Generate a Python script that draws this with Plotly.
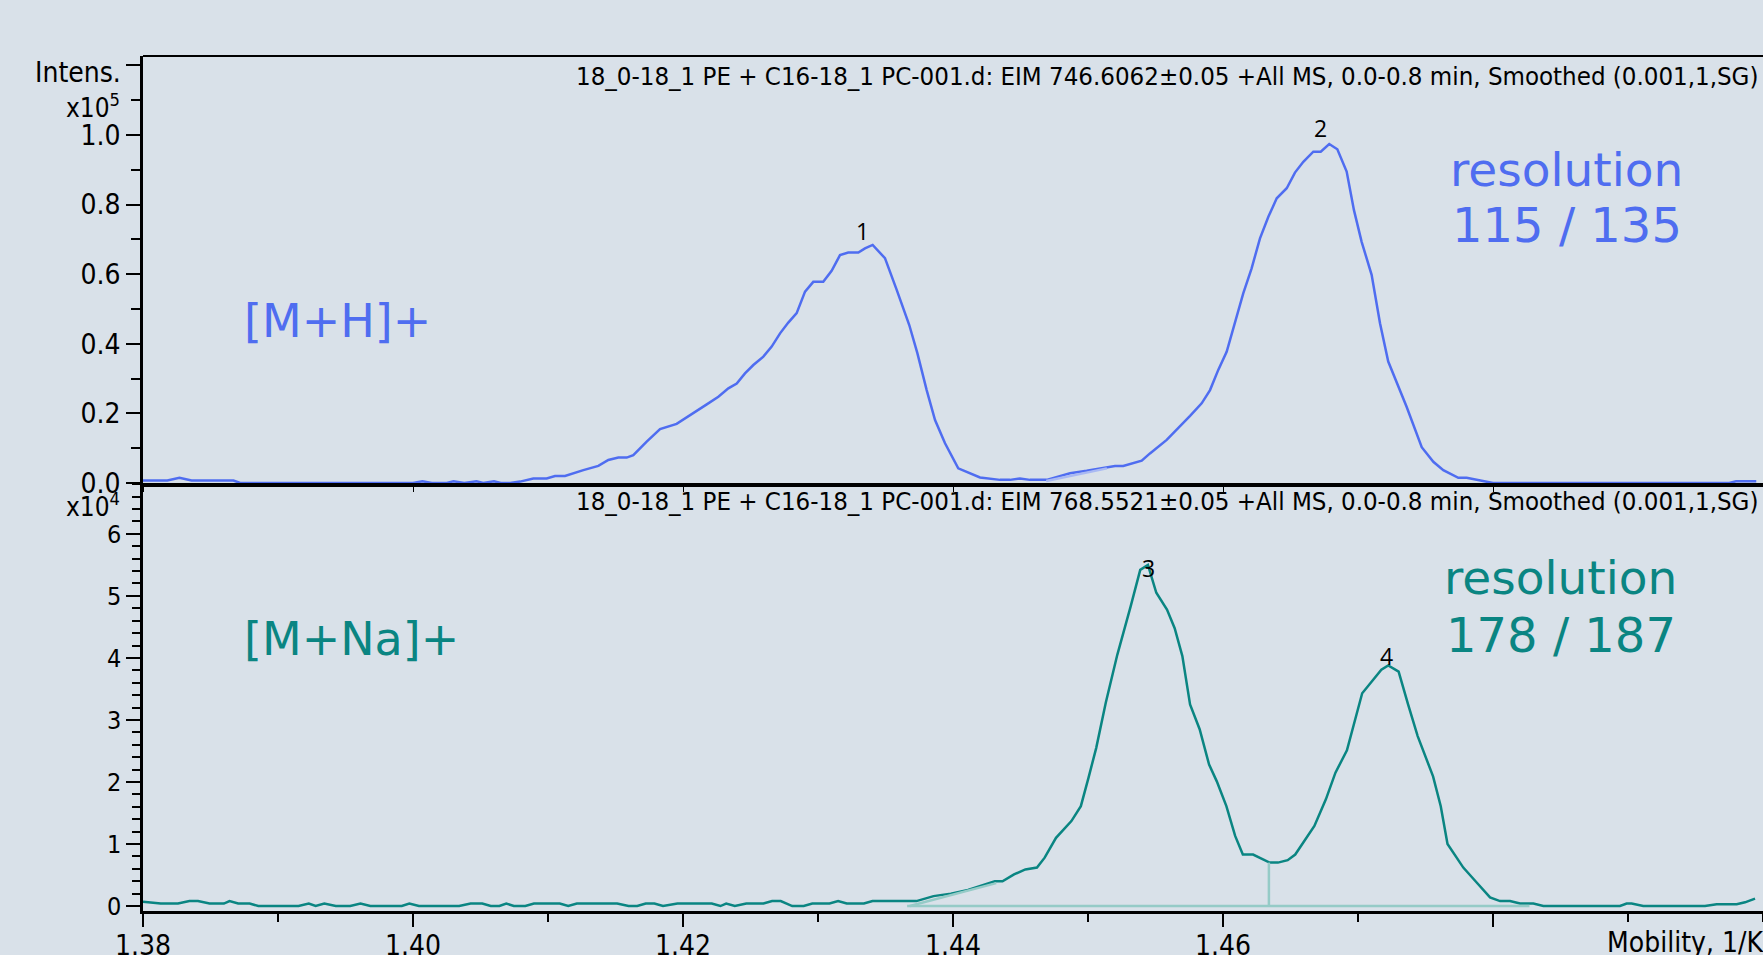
import plotly.graph_objects as go

# ---------------- data (intensity units: upper x1e5, lower x1e4) ----------------
mh_mobility = [1.3800, 1.3818, 1.3827, 1.3836, 1.3867, 1.3872, 1.4000, 1.4007, 1.4014, 1.4025,
               1.4030, 1.4038, 1.4047, 1.4052, 1.4060, 1.4065, 1.4072, 1.40793, 1.40891, 1.40990,
               1.41052, 1.41126, 1.41262, 1.41373, 1.41447, 1.41521, 1.41583, 1.41632, 1.41731, 1.41830,
               1.41953, 1.42077, 1.42176, 1.42262, 1.42336, 1.42398, 1.42459, 1.42521, 1.42595, 1.42657,
               1.42719, 1.42780, 1.42842, 1.42904, 1.42965, 1.43039, 1.43101, 1.43163, 1.43224, 1.43299,
               1.43348, 1.43405, 1.43496, 1.43583, 1.43676, 1.43736, 1.43805, 1.43867, 1.43941, 1.44039,
               1.44200, 1.44348, 1.44422, 1.44496, 1.44570, 1.44694, 1.44867, 1.44990, 1.45113, 1.45200,
               1.45261, 1.45398, 1.45459, 1.45583, 1.45756, 1.45842, 1.45904, 1.45965, 1.46027, 1.46089,
               1.46150, 1.46212, 1.46274, 1.46336, 1.46398, 1.46472, 1.46533, 1.46595, 1.46669, 1.46724,
               1.46787, 1.46847, 1.46916, 1.46970, 1.47027, 1.47101, 1.47163, 1.47224, 1.47286, 1.47360,
               1.47472, 1.47558, 1.47632, 1.47743, 1.47805, 1.47904, 1.4800, 1.4975, 1.4980, 1.4995]
mh_intensity = [0.007, 0.007, 0.015, 0.007, 0.007, 0.0, 0.0, 0.005, 0.0, 0.0,
                0.005, 0.0, 0.005, 0.0, 0.005, 0.0, 0.0, 0.004, 0.013, 0.013,
                0.020, 0.020, 0.037, 0.049, 0.066, 0.073, 0.073, 0.080, 0.119, 0.155,
                0.170, 0.200, 0.226, 0.248, 0.272, 0.286, 0.315, 0.339, 0.363, 0.392,
                0.430, 0.461, 0.488, 0.550, 0.578, 0.578, 0.610, 0.655, 0.662, 0.662,
                0.674, 0.684, 0.646, 0.555, 0.454, 0.373, 0.267, 0.181, 0.114, 0.042,
                0.016, 0.009, 0.009, 0.013, 0.009, 0.009, 0.028, 0.035, 0.042, 0.049,
                0.049, 0.064, 0.085, 0.124, 0.193, 0.229, 0.267, 0.325, 0.377, 0.459,
                0.545, 0.617, 0.703, 0.765, 0.818, 0.847, 0.892, 0.923, 0.952, 0.952,
                0.974, 0.959, 0.895, 0.784, 0.693, 0.598, 0.459, 0.349, 0.291, 0.219,
                0.103, 0.061, 0.037, 0.015, 0.015, 0.007, 0.0, 0.0, 0.005, 0.005]

mna_mobility = [1.3800, 1.38131, 1.38259, 1.38344, 1.38407, 1.38493, 1.38599, 1.38641, 1.38705, 1.38790,
                1.38854, 1.39152, 1.39228, 1.39279, 1.39343, 1.39428, 1.39535, 1.39611, 1.39684, 1.39917,
                1.39973, 1.40044, 1.40342, 1.40427, 1.40513, 1.40576, 1.40640, 1.40691, 1.40747, 1.40832,
                1.40896, 1.41087, 1.41150, 1.41214, 1.41512, 1.41597, 1.41661, 1.41724, 1.41788, 1.41852,
                1.41959, 1.42213, 1.42277, 1.42320, 1.42384, 1.42469, 1.42596, 1.42660, 1.42724, 1.42809,
                1.42894, 1.42958, 1.43085, 1.43149, 1.43213, 1.43340, 1.43404,
                1.43459, 1.43729, 1.43856, 1.43984, 1.44111, 1.44196, 1.44310, 1.44367, 1.44452, 1.44536,
                1.44622, 1.44679, 1.44763, 1.44877, 1.44947, 1.45004, 1.45061, 1.45132, 1.45217, 1.45316,
                1.45387, 1.45444, 1.45506, 1.45585, 1.45642, 1.45699, 1.45756, 1.45827, 1.45897, 1.45954,
                1.46025, 1.46090, 1.46147, 1.46223, 1.46294, 1.46345, 1.46407, 1.46479, 1.46535, 1.46606,
                1.46677, 1.46762, 1.46833, 1.46918, 1.46975, 1.47031, 1.47102, 1.47173, 1.47224, 1.47301,
                1.47371, 1.47442, 1.47556, 1.47613, 1.47663, 1.47706, 1.47780, 1.47879, 1.47978, 1.48052,
                1.48126, 1.48200, 1.48299, 1.48373, 1.48941, 1.48990, 1.49027, 1.49113, 1.49570, 1.49657,
                1.49805, 1.49867, 1.49941]
mna_intensity = [0.07, 0.04, 0.04, 0.08, 0.08, 0.04, 0.04, 0.08, 0.04, 0.04,
                 0.0, 0.0, 0.04, 0.0, 0.04, 0.0, 0.0, 0.04, 0.0, 0.0,
                 0.04, 0.0, 0.0, 0.04, 0.04, 0.0, 0.0, 0.04, 0.0, 0.0,
                 0.04, 0.04, 0.0, 0.04, 0.04, 0.0, 0.0, 0.04, 0.04, 0.0,
                 0.04, 0.04, 0.0, 0.04, 0.0, 0.04, 0.04, 0.08, 0.08, 0.0,
                 0.0, 0.04, 0.04, 0.08, 0.04, 0.04, 0.08,
                 0.08, 0.08, 0.16, 0.20, 0.26, 0.32, 0.40, 0.40, 0.51, 0.59,
                 0.62, 0.78, 1.10, 1.37, 1.61, 2.07, 2.55, 3.28, 4.05, 4.83,
                 5.42, 5.50, 5.05, 4.78, 4.48, 4.03, 3.25, 2.85, 2.28, 2.01,
                 1.61, 1.13, 0.83, 0.83, 0.76, 0.70, 0.70, 0.74, 0.83, 1.05,
                 1.29, 1.72, 2.15, 2.51, 2.98, 3.43, 3.62, 3.81, 3.88, 3.78,
                 3.25, 2.74, 2.09, 1.61, 1.00, 0.86, 0.62, 0.38, 0.14, 0.08,
                 0.08, 0.04, 0.04, 0.0, 0.0, 0.04, 0.04, 0.0, 0.0, 0.03,
                 0.03, 0.06, 0.12]

# integration baselines (data units)
mh_base_x = [1.4469, 1.4514]
mh_base_y = [0.006, 0.042]
mna_base_x = [1.4366, 1.4827]
mna_base_y = [0.0, 0.0]
mna_slant_x = [1.4368, 1.4432]
mna_slant_y = [0.0, 0.37]
mna_drop_x = [1.4634, 1.4634]
mna_drop_y = [0.0, 0.70]

# peak labels
peak_names = ["1", "2", "3", "4"]
peak_x = [1.4333, 1.4672, 1.4545, 1.4721]
peak_y = [0.724, 1.019, 5.45, 4.03]

x_tickvals = [1.38, 1.40, 1.42, 1.44, 1.46, 1.48]
x_ticktext = ["1.38", "1.40", "1.42", "1.44", "1.46", " "]
mh_tickvals = [0.0, 0.2, 0.4, 0.6, 0.8, 1.0, 1.2]
mh_ticktext = ["0.0", "0.2", "0.4", "0.6", "0.8", "1.0", " "]
mna_tickvals = [0, 1, 2, 3, 4, 5, 6]

header_mh = "18_0-18_1 PE + C16-18_1 PC-001.d: EIM 746.6062±0.05 +All MS, 0.0-0.8 min, Smoothed (0.001,1,SG)"
header_mna = "18_0-18_1 PE + C16-18_1 PC-001.d: EIM 768.5521±0.05 +All MS, 0.0-0.8 min, Smoothed (0.001,1,SG)"

# ---------------- style ----------------
BG = "#d9e1e9"
BLUE = "#4f6df0"
LIGHT_BLUE = "#a9b9f3"
TEAL = "#0a8582"
LIGHT_TEAL = "#95cbc7"
COND = "DejaVu Sans Condensed, Liberation Sans Narrow, DejaVu Sans, sans-serif"
NARROW = "Liberation Sans Narrow, DejaVu Sans Condensed, Open Sans, sans-serif"
SANS = "DejaVu Sans, Verdana, sans-serif"

W, H = 1763, 955
L, R, T, B = 143, 0, 56, 44
split = (911 - 483) / 855.0

fig = go.Figure()

fig.add_trace(go.Scatter(x=mh_mobility, y=mh_intensity, mode="lines",
                         line=dict(color=BLUE, width=2.5), xaxis="x2", yaxis="y2",
                         hoverinfo="skip", showlegend=False))
fig.add_trace(go.Scatter(x=mh_base_x, y=mh_base_y, mode="lines",
                         line=dict(color=LIGHT_BLUE, width=2.5), xaxis="x2", yaxis="y2",
                         hoverinfo="skip", showlegend=False))

fig.add_trace(go.Scatter(x=mna_mobility, y=mna_intensity, mode="lines",
                         line=dict(color=TEAL, width=2.5), xaxis="x", yaxis="y",
                         hoverinfo="skip", showlegend=False))
for bx, by in [(mna_base_x, mna_base_y), (mna_slant_x, mna_slant_y), (mna_drop_x, mna_drop_y)]:
    fig.add_trace(go.Scatter(x=bx, y=by, mode="lines",
                             line=dict(color=LIGHT_TEAL, width=2.5), xaxis="x", yaxis="y",
                             hoverinfo="skip", showlegend=False))

annotations = []
for i, name in enumerate(peak_names):
    upper = i < 2
    annotations.append(dict(x=peak_x[i], y=peak_y[i], xref="x2" if upper else "x",
                            yref="y2" if upper else "y", text=name, showarrow=False,
                            xanchor="center", yanchor="middle",
                            font=dict(family="Open Sans, sans-serif", size=23, color="black")))

def pap(ox, oy):
    return (ox - L) / (W - L - R), (H - B - oy) / (H - T - B)

def add_text(text, ox, oy, size, color, family, xanchor="left"):
    px, py = pap(ox, oy)
    annotations.append(dict(x=px, y=py, xref="paper", yref="paper", text=text,
                            showarrow=False, xanchor=xanchor, yanchor="middle",
                            font=dict(family=family, size=size, color=color)))

add_text("Intens.", 123, 73, 28, "black", COND, xanchor="right")
add_text("x10<sup>5</sup>", 122, 106, 26, "black", COND, xanchor="right")
add_text("x10<sup>4</sup>", 122, 505, 26, "black", COND, xanchor="right")
add_text(header_mh, 1760, 76, 25.6, "black", NARROW, xanchor="right")
add_text(header_mna, 1760, 501, 25.6, "black", NARROW, xanchor="right")
add_text("[M+H]+", 242, 321, 46, BLUE, SANS)
add_text("[M+Na]+", 242, 639, 46, TEAL, SANS)
add_text("resolution", 1448, 169, 47, BLUE, SANS)
add_text("115 / 135", 1450, 225, 48, BLUE, SANS)
add_text("resolution", 1442, 577, 47, TEAL, SANS)
add_text("178 / 187", 1444, 635, 48, TEAL, SANS)
add_text("Mobility, 1/K0", 1605, 942, 28, "black", COND)

axis_common = dict(showgrid=False, zeroline=False, ticks="outside", tickcolor="black",
                   linecolor="black", color="black", automargin=False)

fig.update_layout(
    width=W, height=H,
    margin=dict(l=L, r=R, t=T, b=B, pad=0, autoexpand=False),
    paper_bgcolor=BG, plot_bgcolor=BG,
    showlegend=False,
    annotations=annotations,
    xaxis=dict(**axis_common, domain=[0, 1], range=[1.38, 1.50], anchor="y",
               tickvals=x_tickvals, ticktext=x_ticktext, ticklen=13, tickwidth=2,
               showline=True, linewidth=2.5, ticklabelstandoff=-5,
               minor=dict(dtick=0.01, tick0=1.38, ticks="outside", ticklen=8, tickwidth=2,
                          tickcolor="black"),
               tickfont=dict(family=COND, size=28, color="black")),
    xaxis2=dict(**axis_common, domain=[0, 1], range=[1.38, 1.50], anchor="y2",
                matches="x", showticklabels=False, showline=True, linewidth=4),
    yaxis=dict(**axis_common, domain=[0, split], range=[-0.08, 6.82], anchor="x",
               tickvals=mna_tickvals, ticklen=14, tickwidth=2, showline=True, linewidth=2.5,
               minor=dict(dtick=0.2, tick0=0, ticks="outside", ticklen=8, tickwidth=2,
                          tickcolor="black"),
               tickfont=dict(family=COND, size=25, color="black")),
    yaxis2=dict(**axis_common, domain=[split, 1], range=[0, 1.227], anchor="x2",
                tickvals=mh_tickvals, ticktext=mh_ticktext, ticklen=14, tickwidth=2,
                showline=True, linewidth=2.5,
                minor=dict(dtick=0.1, tick0=0, ticks="outside", ticklen=9, tickwidth=2,
                           tickcolor="black"),
                tickfont=dict(family=COND, size=28, color="black")),
    shapes=[dict(type="line", xref="paper", yref="paper", x0=0, x1=1, y0=1, y1=1,
                 line=dict(color="black", width=2))],
)

fig.write_html("out.html", config={"displayModeBar": False},
               post_script="document.body.style.margin='0';document.body.style.overflow='hidden';")
